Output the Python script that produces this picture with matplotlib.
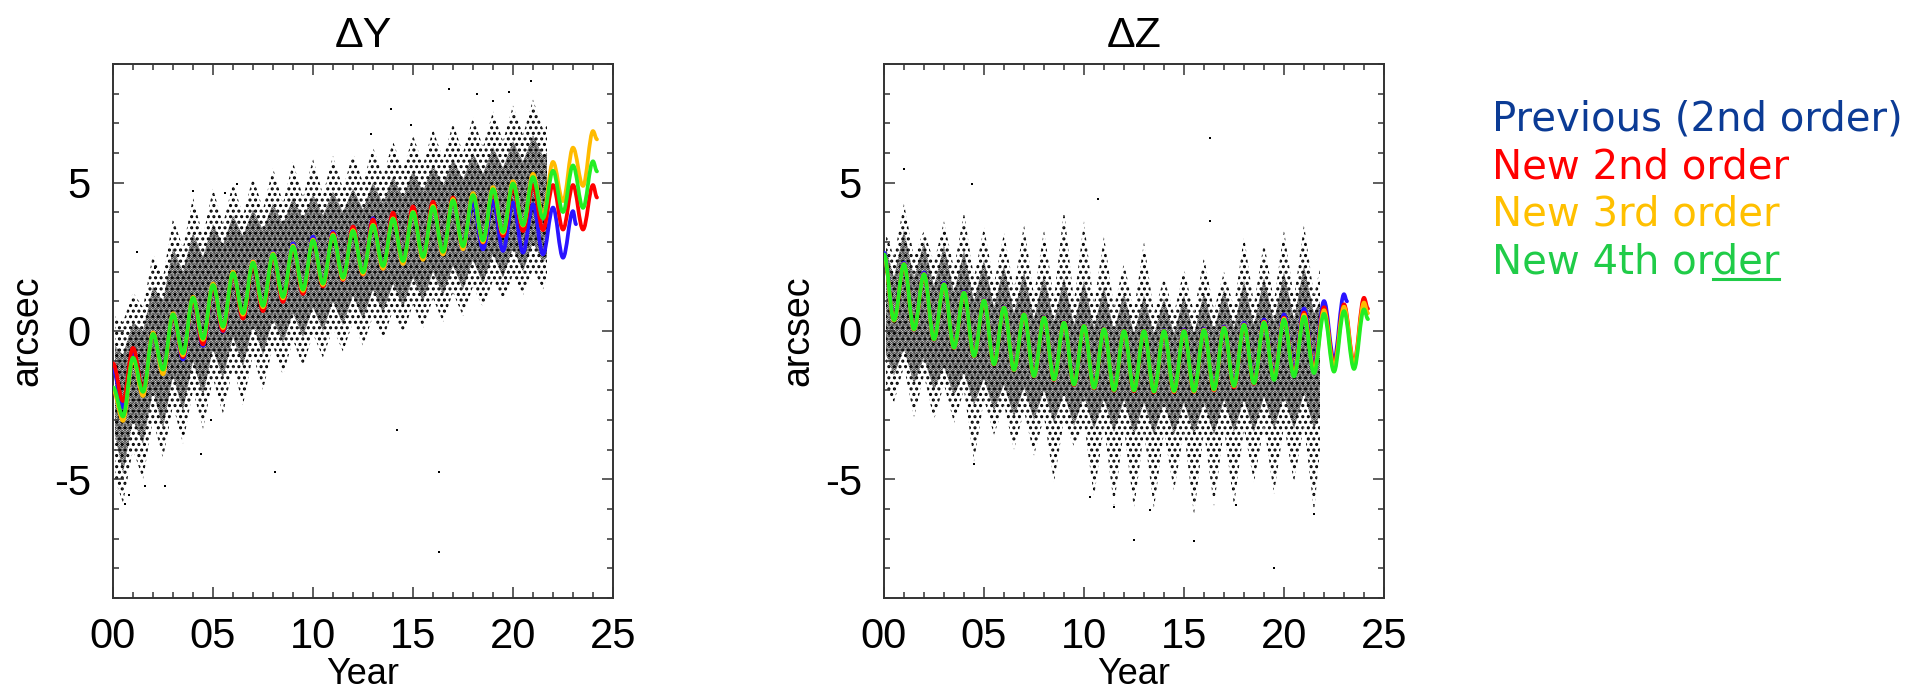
import numpy as np
import matplotlib.pyplot as plt
from matplotlib.lines import Line2D
from matplotlib.path import Path
from matplotlib.patches import PathPatch
from matplotlib.ticker import MultipleLocator

plt.rcParams["font.family"] = ["Liberation Sans", "DejaVu Sans"]
plt.rcParams["hatch.linewidth"] = 1.45

# fitted curves: values at the annual extrema (every half year) + end point
t_fit = np.append(np.arange(0, 24.01, 0.5), 24.2)
t_blue = np.append(np.arange(0, 23.01, 0.5), 23.15)

dy_blue = [-1.29, -2.58, -0.75, -2.00, -0.10, -1.38, 0.55, -0.96, 1.05, -0.50,
           1.50, -0.02, 1.95, 0.45, 2.35, 0.72, 2.65, 1.02, 2.95, 1.30,
           3.18, 1.55, 3.35, 1.75, 3.50, 1.92, 3.80, 2.12, 3.95, 2.30,
           4.15, 2.45, 4.27, 2.60, 4.44, 2.75, 4.33, 2.75, 4.38, 2.70,
           4.33, 2.64, 4.27, 2.58, 4.16, 2.47, 4.04, 3.60]
dy_red = [-1.09, -2.36, -0.57, -1.97, -0.08, -1.33, 0.52, -0.88, 1.05, -0.45,
          1.50, 0.00, 1.90, 0.42, 2.25, 0.67, 2.55, 0.98, 2.85, 1.25,
          3.08, 1.50, 3.30, 1.72, 3.52, 1.90, 3.76, 2.10, 3.99, 2.30,
          4.20, 2.45, 4.36, 2.60, 4.50, 2.80, 4.62, 2.98, 4.72, 3.20,
          4.84, 3.37, 4.92, 3.40, 4.92, 3.42, 4.92, 3.42, 4.92, 4.50]
dy_yellow = [-2.00, -3.03, -0.95, -2.19, -0.05, -1.46, 0.60, -0.82, 1.15, -0.30,
             1.60, 0.10, 2.00, 0.55, 2.35, 0.80, 2.62, 1.10, 2.88, 1.35,
             3.08, 1.55, 3.25, 1.75, 3.40, 1.92, 3.58, 2.10, 3.80, 2.26,
             4.02, 2.40, 4.22, 2.58, 4.45, 2.75, 4.65, 3.00, 4.85, 3.30,
             5.05, 3.55, 5.30, 3.90, 5.70, 4.38, 6.18, 4.89, 6.74, 6.46]
dy_green = [-1.90, -2.88, -0.90, -2.05, -0.10, -1.30, 0.56, -0.75, 1.12, -0.25,
            1.55, 0.15, 1.95, 0.60, 2.30, 0.85, 2.58, 1.15, 2.84, 1.40,
            3.05, 1.60, 3.22, 1.80, 3.37, 1.98, 3.56, 2.19, 3.78, 2.36,
            4.00, 2.50, 4.18, 2.67, 4.40, 2.86, 4.58, 3.06, 4.78, 3.34,
            4.97, 3.57, 5.19, 3.80, 5.40, 4.01, 5.58, 4.15, 5.72, 5.38]

dz_blue = [2.64, 0.40, 2.30, 0.08, 1.97, -0.25, 1.62, -0.54, 1.33, -0.82,
           1.06, -1.10, 0.82, -1.30, 0.58, -1.51, 0.47, -1.62, 0.30, -1.79,
           0.19, -1.90, 0.08, -1.98, 0.02, -2.00, 0.02, -2.05, 0.03, -2.03,
           0.05, -2.00, 0.08, -1.94, 0.15, -1.84, 0.27, -1.70, 0.39, -1.55,
           0.56, -1.35, 0.76, -1.18, 1.01, -0.96, 1.24, 1.00]
dz_red = [2.56, 0.36, 2.26, 0.05, 1.92, -0.29, 1.58, -0.57, 1.30, -0.85,
          1.04, -1.13, 0.80, -1.32, 0.57, -1.53, 0.46, -1.65, 0.29, -1.82,
          0.18, -1.93, 0.07, -2.01, 0.01, -2.03, 0.01, -2.07, 0.01, -2.06,
          0.02, -2.05, 0.05, -2.00, 0.12, -1.90, 0.22, -1.78, 0.32, -1.60,
          0.45, -1.45, 0.62, -1.28, 0.80, -1.12, 0.90, -1.04, 1.12, 0.75]
dz_yellow = [2.55, 0.35, 2.25, 0.05, 1.91, -0.28, 1.57, -0.56, 1.29, -0.84,
             1.03, -1.12, 0.79, -1.31, 0.56, -1.52, 0.45, -1.63, 0.28, -1.80,
             0.17, -1.91, 0.06, -1.99, 0.00, -2.00, 0.00, -2.04, 0.00, -2.04,
             0.00, -2.04, 0.04, -1.98, 0.11, -1.86, 0.21, -1.75, 0.30, -1.62,
             0.42, -1.48, 0.55, -1.32, 0.70, -1.20, 0.82, -1.12, 0.96, 0.60]
dz_green = [2.58, 0.37, 2.25, 0.06, 1.91, -0.28, 1.57, -0.56, 1.29, -0.84,
            1.03, -1.12, 0.79, -1.31, 0.56, -1.52, 0.45, -1.63, 0.28, -1.80,
            0.17, -1.91, 0.06, -1.99, 0.00, -2.00, 0.00, -2.04, 0.00, -2.02,
            0.00, -2.02, 0.03, -1.96, 0.10, -1.85, 0.20, -1.76, 0.28, -1.65,
            0.38, -1.53, 0.48, -1.42, 0.58, -1.37, 0.67, -1.28, 0.73, 0.40]

# measurement cloud: dense core and sparse outer envelopes (every half year)
t_env_y = np.concatenate([[0.1], np.arange(0.5, 21.51, 0.5), [21.7]])
t_env_z = np.concatenate([[0.1], np.arange(0.5, 21.51, 0.5), [21.8]])

dy_core_hi = [-0.5, -0.8, 0.3, 0.0, 1.5, 1.0, 2.8, 2.0, 3.3, 2.5,
              3.6, 2.9, 3.9, 3.2, 4.1, 3.4, 4.3, 3.6, 4.5, 3.8,
              4.6, 3.9, 4.7, 4.0, 4.8, 4.1, 5.0, 4.3, 5.2, 4.5,
              5.4, 4.7, 5.6, 4.9, 5.8, 5.1, 6.0, 5.3, 6.2, 5.5,
              6.4, 5.7, 6.6, 5.9, 6.0]
dy_core_lo = [-3.5, -4.8, -3.0, -3.8, -2.0, -3.3, -1.5, -2.7, -1.0, -2.2,
              -0.6, -1.6, -0.2, -1.2, 0.2, -0.8, 0.4, -0.4, 0.6, -0.2,
              0.8, 0.0, 1.0, 0.2, 1.2, 0.4, 1.4, 0.6, 1.6, 0.8,
              1.8, 1.0, 2.0, 1.2, 2.2, 1.4, 2.4, 1.6, 2.6, 1.8,
              2.8, 2.0, 3.0, 2.3, 2.5]
dy_out_hi = [0.5, 0.3, 1.3, 0.8, 2.6, 1.8, 3.8, 2.8, 4.5, 3.2,
             4.8, 3.6, 5.0, 3.9, 5.2, 4.1, 5.5, 4.3, 5.7, 4.5,
             5.8, 4.6, 5.9, 4.8, 6.0, 5.0, 6.2, 5.2, 6.4, 5.4,
             6.6, 5.6, 6.8, 5.8, 7.0, 6.0, 7.2, 6.2, 7.4, 6.4,
             7.6, 6.6, 7.8, 6.8, 7.0]
dy_out_lo = [-5.0, -5.8, -4.0, -5.0, -3.0, -4.3, -2.5, -3.8, -2.0, -3.3,
             -1.6, -2.8, -1.2, -2.5, -0.8, -2.0, -0.5, -1.5, -0.3, -1.2,
             -0.1, -0.9, 0.1, -0.7, 0.3, -0.5, 0.5, -0.3, 0.7, -0.1,
             0.9, 0.1, 1.1, 0.3, 1.3, 0.5, 1.5, 0.8, 1.7, 1.0,
             1.9, 1.2, 2.1, 1.4, 1.8]

dz_core_hi = [2.8, 1.8, 3.4, 1.8, 3.0, 1.5, 2.9, 1.3, 2.7, 1.0,
              2.4, 0.8, 2.2, 0.6, 2.0, 0.4, 1.9, 0.3, 1.8, 0.2,
              1.7, 0.1, 1.5, 0.0, 1.3, -0.1, 1.2, -0.1, 1.1, -0.1,
              1.2, -0.1, 1.3, 0.0, 1.4, 0.1, 1.7, 0.2, 1.8, 0.3,
              2.0, 0.4, 2.2, 0.6, 1.0]
dz_core_lo = [-0.8, -1.5, -0.6, -1.8, -0.9, -2.0, -1.2, -2.2, -1.4, -2.5,
              -1.6, -2.7, -1.8, -2.9, -1.9, -3.0, -2.0, -3.1, -2.1, -3.2,
              -2.2, -3.3, -2.3, -3.4, -2.3, -3.5, -2.4, -3.5, -2.4, -3.5,
              -2.4, -3.5, -2.4, -3.5, -2.3, -3.4, -2.3, -3.4, -2.2, -3.3,
              -2.2, -3.3, -2.1, -3.3, -2.8]
dz_out_hi = [3.3, 2.5, 4.3, 2.5, 3.4, 2.3, 3.7, 2.1, 4.0, 1.8,
             3.5, 1.6, 3.3, 1.4, 3.6, 1.2, 3.4, 1.1, 4.1, 1.0,
             3.7, 0.9, 3.2, 0.8, 2.3, 0.7, 3.0, 0.6, 1.8, 0.6,
             2.1, 0.6, 2.5, 0.7, 2.0, 0.8, 3.2, 0.9, 3.0, 1.0,
             3.4, 1.1, 3.6, 1.2, 2.1]
dz_out_lo = [-2.0, -2.4, -1.2, -2.9, -1.5, -3.0, -1.8, -3.1, -2.0, -4.4,
             -2.3, -3.5, -2.5, -4.0, -2.7, -4.2, -2.9, -5.1, -3.0, -3.9,
             -3.1, -5.6, -3.2, -5.9, -3.3, -6.0, -3.4, -6.0, -3.4, -5.4,
             -3.4, -6.2, -3.4, -5.9, -3.3, -5.9, -3.3, -5.1, -3.2, -5.5,
             -3.2, -5.1, -3.2, -6.1, -4.0]

# isolated points
dy_out_t = [14.2, 16.3, 16.3, 8.1, 4.4, 2.6, 1.6, 0.6, 0.8, 3.5, 4.9,
            20.9, 16.8, 18.2, 19.8, 13.9, 14.9, 12.9, 5.6, 4.0, 1.2, 6.2, 2.1, 19.0]
dy_out_v = [-3.33, -4.75, -7.45, -4.75, -4.16, -5.22, -5.24, -5.84, -5.54, -3.43, -3.0,
            8.43, 8.17, 7.98, 8.07, 7.5, 6.93, 6.63, 4.66, 4.72, 2.67, 4.94, 2.13, 7.75]
dz_out_t = [16.3, 16.3, 1.0, 4.4, 10.7, 12.5, 15.5, 19.5, 17.6, 21.5, 4.5, 10.3, 11.5, 13.3]
dz_out_v = [6.5, 3.7, 5.45, 4.94, 4.46, -7.06, -7.09, -7.99, -5.88, -6.16, -4.47, -5.6, -5.93, -6.04]

xtick_vals = [0, 5, 10, 15, 20, 25]
xtick_labels = ["00", "05", "10", "15", "20", "25"]
ytick_vals = [-5, 0, 5]
ytick_labels = ["-5", "0", "5"]

legend_labels = ["Previous (2nd order)", "New 2nd order", "New 3rd order", "New 4th order"]
legend_colors = ["#0b3b95", "#ff0000", "#ffc000", "#20cc48"]
curve_colors = ["#2a14ff", "#ff0000", "#ffbb00", "#22ee22"]

tick_font = ["Liberation Sans Narrow", "Liberation Sans"]

W, H = 1933, 693
fig = plt.figure(figsize=(W / 100, H / 100), dpi=100)
ax1 = fig.add_axes([113 / W, 95 / H, 500 / W, 534 / H])
ax2 = fig.add_axes([884 / W, 95 / H, 500 / W, 534 / H])


def extrema_path(t, v, k=0.3642):
    # smooth curve through the extrema, flat tangent at each one
    verts = [(t[0], v[0])]
    codes = [Path.MOVETO]
    for i in range(1, len(t)):
        dt = t[i] - t[i - 1]
        verts += [(t[i - 1] + k * dt, v[i - 1]), (t[i] - k * dt, v[i]), (t[i], v[i])]
        codes += [Path.CURVE4] * 3
    return Path(verts, codes)


def draw_panel(ax, title, t_env, core_lo, core_hi, out_lo, out_hi, pts_t, pts_v, curves):
    ax.fill_between(t_env, out_lo, out_hi, facecolor="none", edgecolor="k",
                    hatch="...", linewidth=0)
    ax.fill_between(t_env, core_lo, core_hi, facecolor="none", edgecolor="k",
                    hatch="......", linewidth=0)
    ax.scatter(pts_t, pts_v, s=3, color="k", marker="s", linewidths=0)
    for (tt, vv), c in zip(curves, curve_colors):
        ax.add_patch(PathPatch(extrema_path(tt, vv), facecolor="none", edgecolor=c,
                               lw=2.7, capstyle="round", joinstyle="round", zorder=3))

    ax.set_xlim(0, 25)
    ax.set_ylim(-9, 9)
    ax.set_xticks(xtick_vals, xtick_labels)
    ax.set_yticks(ytick_vals, ytick_labels)
    ax.xaxis.set_minor_locator(MultipleLocator(1))
    ax.yaxis.set_minor_locator(MultipleLocator(1))
    ax.tick_params(which="both", direction="in", top=True, right=True,
                   width=1.1, color="#333333")
    ax.tick_params(which="major", length=8, labelsize=30)
    ax.tick_params(axis="x", which="major", pad=14)
    ax.tick_params(axis="y", which="major", pad=16)
    ax.tick_params(which="minor", length=4.2)
    for lab in ax.get_xticklabels() + ax.get_yticklabels():
        lab.set_fontfamily(tick_font)
    for s in ax.spines.values():
        s.set_linewidth(1.4)
        s.set_color("#333333")
    ax.set_title(title, fontsize=31, pad=12)
    ax.set_xlabel("Year", fontsize=26)
    ax.xaxis.label.set_va("baseline")
    ax.xaxis.set_label_coords(0.5, -(684 - 598) / 534)
    ax.set_ylabel("arcsec", fontsize=27)
    ax.yaxis.set_label_coords(-0.135, 0.5)


draw_panel(ax1, "ΔY", t_env_y, dy_core_lo, dy_core_hi, dy_out_lo, dy_out_hi,
           dy_out_t, dy_out_v,
           [(t_blue, dy_blue), (t_fit, dy_red), (t_fit, dy_yellow), (t_fit, dy_green)])
draw_panel(ax2, "ΔZ", t_env_z, dz_core_lo, dz_core_hi, dz_out_lo, dz_out_hi,
           dz_out_t, dz_out_v,
           [(t_blue, dz_blue), (t_fit, dz_red), (t_fit, dz_yellow), (t_fit, dz_green)])

# legend as coloured text lines
x0 = 1492 / W
baselines = [131, 178.5, 226, 273.5]
texts = []
for lab, col, b in zip(legend_labels, legend_colors, baselines):
    texts.append(fig.text(x0, 1 - b / H, lab, color=col, fontsize=29,
                          family="DejaVu Sans", va="baseline", ha="left"))

# underline under "der" of the last entry
renderer = fig.canvas.get_renderer()
probe = fig.text(x0, 1 - baselines[3] / H, "New 4th or", fontsize=29,
                 family="DejaVu Sans", va="baseline", ha="left")
bb_pre = probe.get_window_extent(renderer)
bb_full = texts[3].get_window_extent(renderer)
probe.remove()
yu = 1 - (baselines[3] + 5) / H
fig.add_artist(Line2D([bb_pre.x1 / W, bb_full.x1 / W], [yu, yu],
                      transform=fig.transFigure, color=legend_colors[3], lw=2.2))

fig.savefig("out.png", dpi=100)
